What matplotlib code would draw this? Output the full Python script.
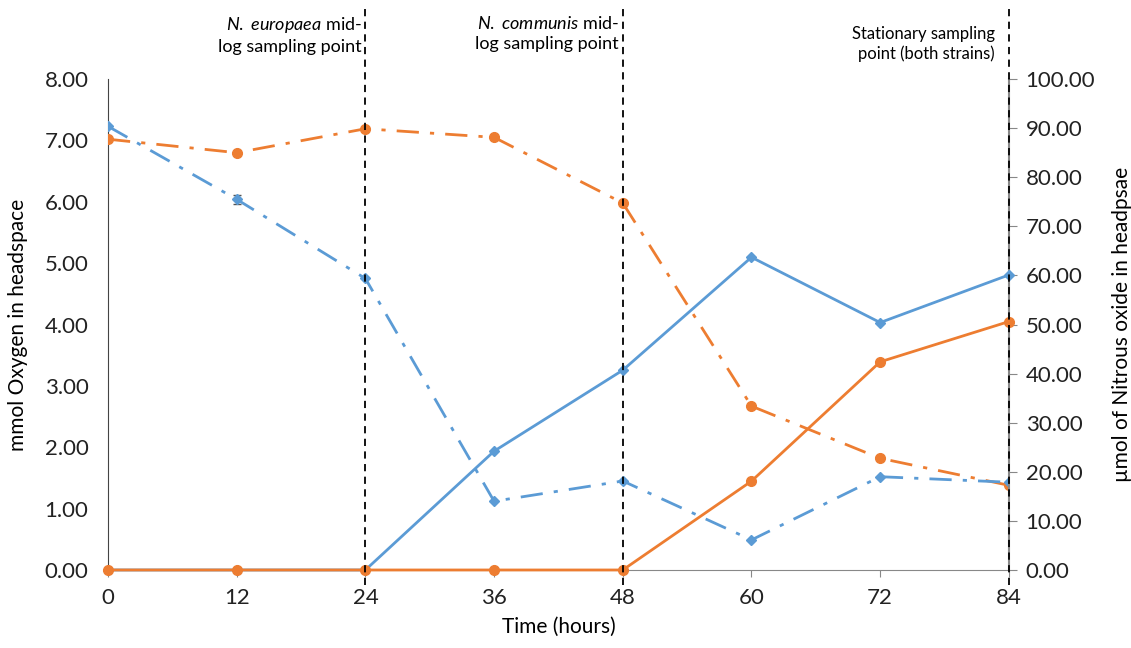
import matplotlib
matplotlib.use('Agg')
from matplotlib import pyplot as plt

plt.rcParams['font.family'] = ['Lato', 'DejaVu Sans']
plt.rcParams['mathtext.fontset'] = 'custom'
plt.rcParams['mathtext.it'] = 'Lato:italic'
plt.rcParams['mathtext.rm'] = 'Lato'

hours = [0, 12, 24, 36, 48, 60, 72, 84]

# oxygen (left axis, mmol)
o2_blue = [7.23, 6.04, 4.75, 1.12, 1.45, 0.49, 1.52, 1.43]
o2_blue_err = [0, 0.07, 0, 0, 0, 0, 0, 0]
o2_orange = [7.02, 6.80, 7.19, 7.05, 5.98, 2.67, 1.82, 1.38]

# nitrous oxide (right axis, umol)
n2o_blue = [0, 0, 0, 24.2, 40.7, 63.7, 50.4, 60.1]
n2o_orange = [0, 0, 0, 0, 0, 18.1, 42.4, 50.6]

sample_hours = [24, 48, 84]
sample_notes = ["$\\it{N.}$ $\\it{europaea}$ mid-\nlog sampling point",
                "$\\it{N.}$ $\\it{communis}$ mid-\nlog sampling point",
                "Stationary sampling\npoint (both strains)"]

BLUE = '#5B9BD5'
ORANGE = '#ED7D31'

fig = plt.figure(figsize=(11.31, 6.48), dpi=100)
ax = fig.add_axes([0.0955, 0.1204, 0.7965, 0.7576])
ax2 = ax.twinx()

ax.errorbar(hours, o2_blue, yerr=o2_blue_err, color=BLUE, lw=2,
            ls=(0, (8, 4, 1.5, 4)), marker='D', ms=5, ecolor='#555555',
            elinewidth=1.2, capsize=3, zorder=3)
ax.plot(hours, o2_orange, color=ORANGE, lw=2, ls=(0, (8, 4, 1.5, 4)),
        marker='o', ms=7, zorder=3)

ax2.plot(hours, n2o_blue, color=BLUE, lw=2, marker='D', ms=5, zorder=5,
         clip_on=False)
ax2.plot(hours, n2o_orange, color=ORANGE, lw=2, marker='o', ms=7, zorder=6,
         clip_on=False)

ax.set_xlim(0, 84)
ax.set_ylim(0, 8)
ax2.set_ylim(0, 100)
ax.set_xticks(hours)
ax.set_yticks(range(0, 9))
ax.set_yticklabels(['%.2f' % v for v in range(0, 9)])
ax2.set_yticks(range(0, 101, 10))
ax2.set_yticklabels(['%.2f' % v for v in range(0, 101, 10)])

for a in (ax, ax2):
    a.spines['top'].set_visible(False)
    a.tick_params(labelsize=16, colors='#222222')
ax.spines['left'].set_color('#444444')
ax.spines['bottom'].set_color('#888888')
ax.spines['right'].set_visible(False)
ax2.spines['left'].set_visible(False)
ax2.spines['bottom'].set_visible(False)
ax2.spines['right'].set_color('#888888')
ax2.spines['right'].set_linewidth(1.5)
ax.tick_params(axis='y', length=0, pad=14)
ax.tick_params(axis='x', length=5, color='#888888', pad=8)
ax2.tick_params(axis='y', length=6, color='#888888', pad=6)

ax.set_xlabel('Time (hours)', fontsize=15, labelpad=6)
ax.set_ylabel('mmol Oxygen in headspace', fontsize=15, labelpad=12)
ax2.set_ylabel('µmol of Nitrous oxide in headpsae', fontsize=15, labelpad=12)

for h, note in zip(sample_hours, sample_notes):
    ax2.plot([h, h], [-0.03, 1.15], color='black', lw=1.3, ls=(0, (4, 3)),
             transform=ax2.get_xaxis_transform(), clip_on=False, zorder=7)
    if h < 84:
        ax.text(h - 0.35, 9.05, note, ha='right', va='top', fontsize=13,
                linespacing=1.35)
    else:
        ax.text(h - 1.3, 8.87, note, ha='right', va='top', fontsize=12,
                linespacing=1.3)

fig.savefig('out.png', dpi=100)
